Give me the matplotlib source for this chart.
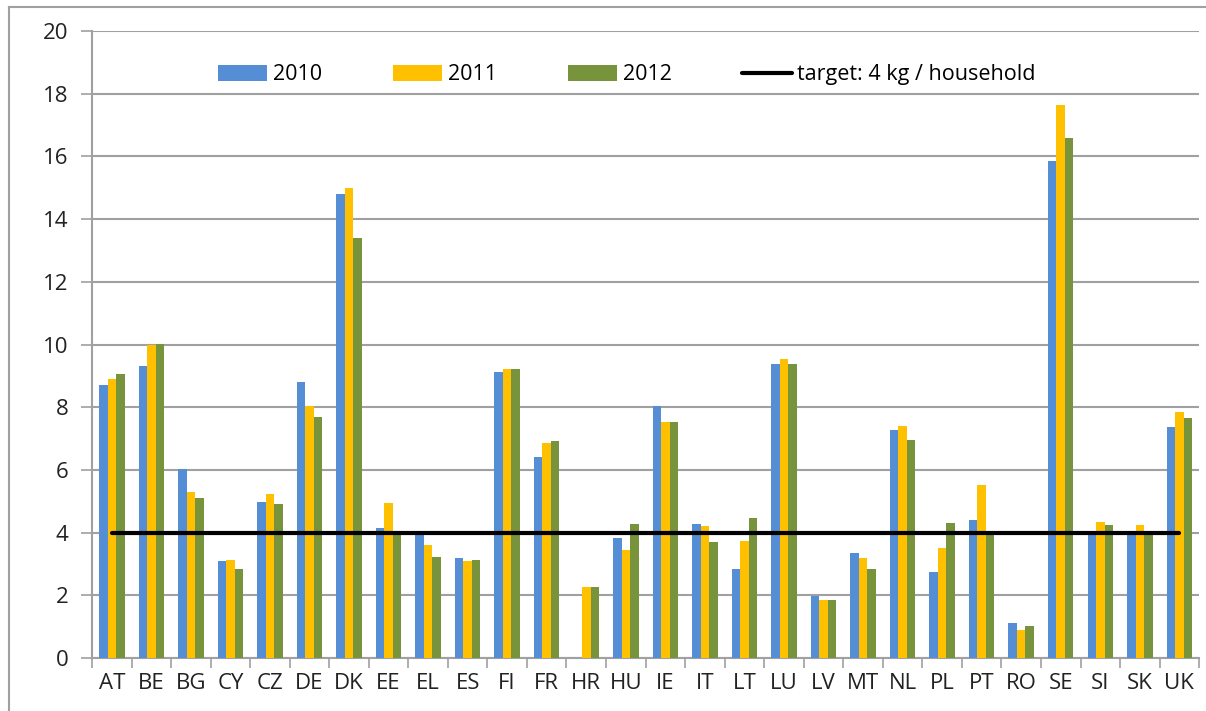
import numpy as np
import matplotlib.pyplot as plt
from matplotlib.lines import Line2D

plt.rcParams['font.family'] = ['Open Sans', 'DejaVu Sans']

countries = ['AT', 'BE', 'BG', 'CY', 'CZ', 'DE', 'DK', 'EE', 'EL', 'ES', 'FI', 'FR',
             'HR', 'HU', 'IE', 'IT', 'LT', 'LU', 'LV', 'MT', 'NL', 'PL', 'PT', 'RO',
             'SE', 'SI', 'SK', 'UK']

y2010 = [8.70, 9.32, 6.04, 3.08, 4.97, 8.80, 14.80, 4.15, 3.98, 3.18, 9.11, 6.40,
         0.00, 3.84, 8.03, 4.27, 2.83, 9.37, 1.98, 3.34, 7.26, 2.76, 4.39, 1.13,
         15.85, 3.95, 3.95, 7.36]
y2011 = [8.91, 9.99, 5.28, 3.12, 5.23, 8.03, 14.99, 4.93, 3.60, 3.08, 9.23, 6.86,
         2.26, 3.43, 7.52, 4.20, 3.74, 9.53, 1.85, 3.18, 7.41, 3.52, 5.53, 0.90,
         17.65, 4.34, 4.24, 7.86]
y2012 = [9.05, 10.02, 5.12, 2.83, 4.92, 7.69, 13.40, 3.97, 3.23, 3.12, 9.23, 6.92,
         2.26, 4.27, 7.52, 3.71, 4.46, 9.37, 1.85, 2.83, 6.96, 4.30, 3.95, 1.01,
         16.58, 4.24, 3.95, 7.67]
target = 4

x = np.arange(len(countries))
w = 0.215

fig = plt.figure(figsize=(12.06, 7.11), dpi=100)
ax = fig.add_axes([0.0763, 0.0745, 0.918, 0.8819])

ax.bar(x - w, y2010, w, color='#558ED5', label='2010', zorder=3)
ax.bar(x, y2011, w, color='#FFC000', label='2011', zorder=3)
ax.bar(x + w, y2012, w, color='#77933C', label='2012', zorder=3)
ax.plot(x, [target] * len(x), color='black', lw=3, solid_capstyle='round', zorder=4,
        label='target: 4 kg / household')

ax.set_xlim(-0.5, len(x) - 0.5)
ax.set_ylim(0, 20)
ax.set_yticks(range(0, 21, 2))
ax.yaxis.grid(True, color='#A0A0A0', lw=1.5, zorder=0)
ax.set_axisbelow(True)

ax.set_xticks(x)
ax.set_xticklabels(countries)
ax.set_xticks(np.arange(-0.5, len(x), 1), minor=True)
ax.tick_params(axis='x', which='major', length=0, pad=11, labelsize=16, colors='#222222')
ax.tick_params(axis='x', which='minor', length=7, width=1.2, color='#A0A0A0', direction='out')
ax.tick_params(axis='y', length=8, width=1.2, color='#A0A0A0', labelsize=16, pad=9,
               labelcolor='#222222')

for s in ['top', 'right']:
    ax.spines[s].set_visible(False)
for s in ['left', 'bottom']:
    ax.spines[s].set_color('#A0A0A0')
    ax.spines[s].set_linewidth(1.5)

handles, labels = ax.get_legend_handles_labels()
order = [1, 2, 3, 0]
ax.legend([handles[i] for i in order], [labels[i] for i in order], ncol=4,
          loc='center', bbox_to_anchor=(0.483, 0.93), frameon=False,
          fontsize=15.5, handlelength=2.3, handleheight=0.75, columnspacing=3.3,
          handletextpad=0.25)

# outer chart frame (left and top edges)
fig.add_artist(Line2D([9 / 1206, 9 / 1206], [0, 1 - 7 / 711], color='#A0A0A0', lw=1.5))
fig.add_artist(Line2D([9 / 1206, 1], [1 - 7 / 711, 1 - 7 / 711], color='#A0A0A0', lw=1.5))

fig.savefig('out.png', dpi=100)
